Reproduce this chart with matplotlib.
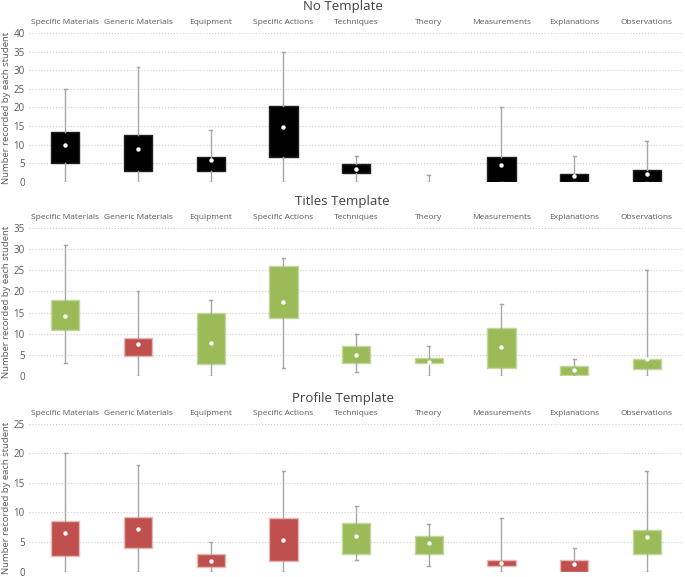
import numpy as np
import matplotlib
matplotlib.use('Agg')
from matplotlib import pyplot as plt

plt.rcParams['font.family'] = ['Open Sans', 'DejaVu Sans']

categorias = ['Specific Materials', 'Generic Materials', 'Equipment', 'Specific Actions',
              'Techniques', 'Theory', 'Measurements', 'Explanations', 'Observations']

# %% dados (min, q1, q3, max, media)
no_min  = [0, 0, 0, 0, 0, 0, 0, 0, 0]
no_q1   = [5, 3, 3, 6.6, 2.5, 0, 0, 0, 0]
no_q3   = [13.5, 12.6, 6.6, 20.5, 4.7, 0, 6.6, 2.1, 3.1]
no_max  = [25, 31, 14, 35, 7, 2, 20, 7, 11]
no_mean = [9.8, 8.8, 5.8, 14.7, 3.6, 0, 4.6, 1.5, 2.2]

ti_min  = [3, 0, 0, 2, 1, 0, 0, 0, 0]
ti_q1   = [10.8, 4.8, 2.8, 13.6, 3.1, 3, 2, 0.2, 1.7]
ti_q3   = [17.9, 8.9, 15, 26, 7, 4.3, 11.3, 2.3, 4]
ti_max  = [31, 20, 18, 28, 10, 7, 17, 4, 25]
ti_mean = [14.1, 7.6, 7.9, 17.4, 5, 3.4, 6.8, 1.3, 4]

pr_min  = [0, 0, 0, 0, 2, 1, 0, 0, 0]
pr_q1   = [2.7, 4, 0.8, 1.8, 3, 3, 1, 0, 3]
pr_q3   = [8.45, 9.2, 3, 9, 8.2, 6, 2, 2, 7]
pr_max  = [20, 18, 5, 17, 11, 8, 9, 4, 17]
pr_mean = [6.5, 7.15, 1.75, 5.4, 6, 4.8, 1.5, 1.2, 5.75]

preto = '#000000'
verde = '#9bbb59'
verm = '#c0504d'
no_cores = [preto] * 9
ti_cores = [verde, verm, verde, verde, verde, verde, verde, verde, verde]
pr_cores = [verm, verm, verm, verm, verde, verde, verm, verm, verde]
bordas = {preto: '#202020', verde: '#c3d69b', verm: '#e6b9b8'}

# titulo, dados, cores, ymax, posicao do eixo, altura do titulo (fracao da figura)
paineis = [
    ('No Template', no_min, no_q1, no_q3, no_max, no_mean, no_cores, 40, [0.0423, 0.6846, 0.955, 0.2582], 0.988),
    ('Titles Template', ti_min, ti_q1, ti_q3, ti_max, ti_mean, ti_cores, 35, [0.0423, 0.3484, 0.955, 0.2565], 0.651),
    ('Profile Template', pr_min, pr_q1, pr_q3, pr_max, pr_mean, pr_cores, 25, [0.0423, 0.0095, 0.955, 0.2565], 0.310),
]

fig = plt.figure(figsize=(6.85, 5.77), dpi=100)

for (titulo, mn, q1, q3, mx, media, cores, ymax, pos, ytit) in paineis:
    ax = fig.add_axes(pos)
    stats = []
    for i in range(len(categorias)):
        stats.append({'whislo': mn[i], 'q1': q1[i], 'med': q1[i], 'q3': q3[i],
                      'whishi': mx[i], 'mean': media[i], 'fliers': []})
    bp = ax.bxp(stats, positions=np.arange(9), widths=0.39, patch_artist=True,
                showmeans=True, showfliers=False,
                whiskerprops=dict(color='#a6a6a6', linewidth=1),
                capprops=dict(color='#a6a6a6', linewidth=1),
                medianprops=dict(linewidth=0),
                meanprops=dict(marker='o', markersize=2.2, markerfacecolor='white',
                               markeredgecolor='white'))
    for caixa, cor, a, b in zip(bp['boxes'], cores, q1, q3):
        caixa.set_facecolor(cor)
        caixa.set_edgecolor(bordas[cor])
        caixa.set_linewidth(1)
        if b - a == 0:
            caixa.set_visible(False)
    for m, a, b in zip(bp['means'], q1, q3):
        if b - a == 0:
            m.set_visible(False)
    for cap in bp['caps']:
        c = cap.get_xdata().mean()
        cap.set_xdata([c - 0.02, c + 0.02])
    ax.set_xlim(-0.5, 8.5)
    ax.set_ylim(0, ymax)
    ax.set_yticks(np.arange(0, ymax + 1, 5))
    ax.yaxis.grid(True, linestyle=':', color='#d0d0d0', linewidth=0.8)
    ax.set_axisbelow(True)
    ax.xaxis.tick_top()
    ax.set_xticks(np.arange(9))
    ax.set_xticklabels(categorias)
    ax.tick_params(axis='x', length=0, labelsize=6, labelcolor='#595959', pad=5)
    ax.tick_params(axis='y', length=0, labelsize=7, labelcolor='#595959', pad=3)
    for s in ax.spines.values():
        s.set_visible(False)
    ax.set_ylabel('Number recorded by each student', fontsize=6.8, color='#595959', labelpad=2)
    fig.text(0.5, ytit, titulo, fontsize=9.5, color='#404040', ha='center', va='center')

plt.savefig('out.png', dpi=100)
